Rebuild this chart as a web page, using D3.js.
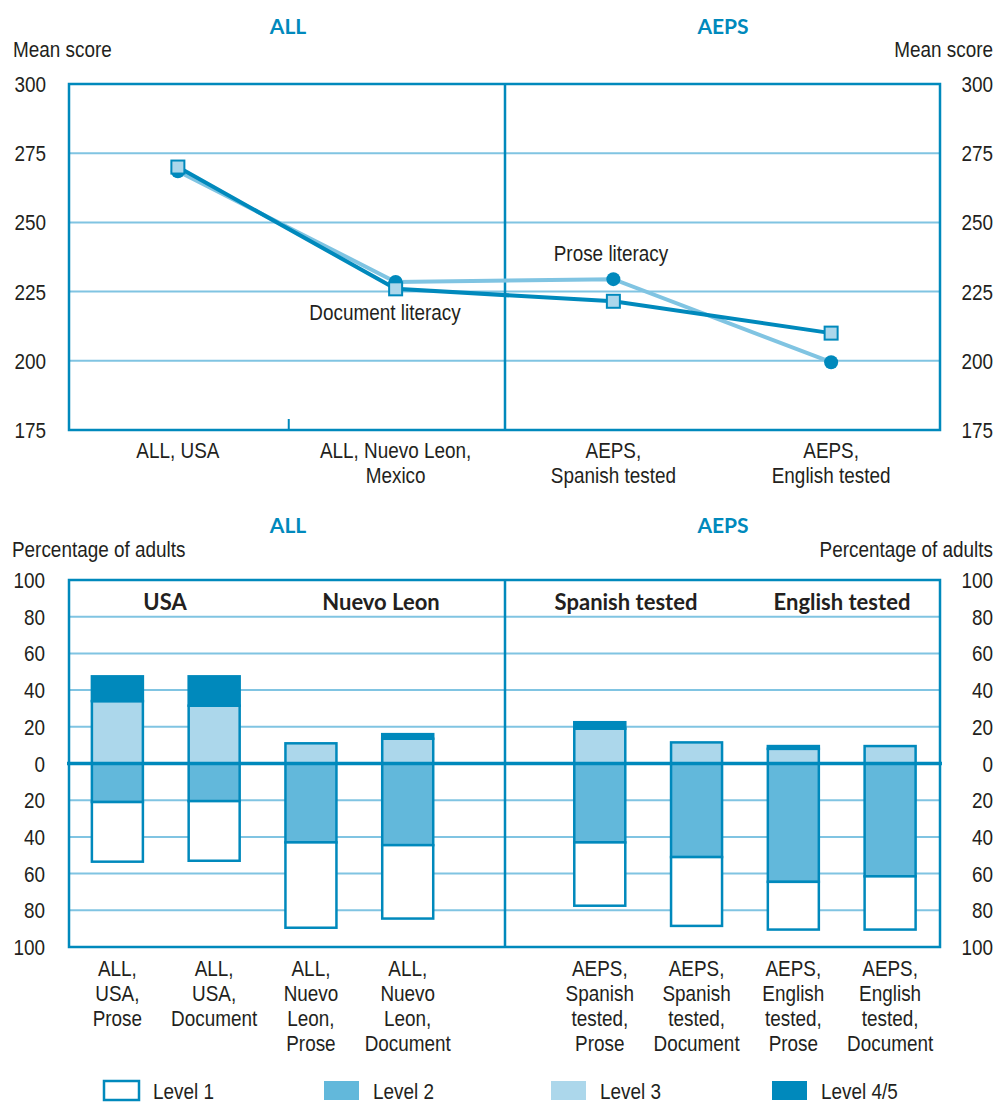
<!DOCTYPE html>
<html>
<head>
<meta charset="utf-8">
<script src="https://cdn.jsdelivr.net/npm/d3@7/dist/d3.min.js"></script>
<style>
  html, body { margin: 0; padding: 0; background: #fff; }
  svg { display: block; }
  .lbl { font-family: "Liberation Sans", Arial, sans-serif; fill: #231f20; }
  .ttl { font-family: Lato, "Open Sans", sans-serif; font-weight: 700; }
</style>
</head>
<body>
<svg id="chart" width="995" height="1102"></svg>
<script>
// ---------- DATA ----------
const lineCategories = ["ALL, USA", "ALL, Nuevo Leon, Mexico", "AEPS, Spanish tested", "AEPS, English tested"];
const lineCategoryLines = [["ALL, USA"], ["ALL, Nuevo Leon,", "Mexico"], ["AEPS,", "Spanish tested"], ["AEPS,", "English tested"]];
const proseScores = [268.5, 228.5, 229.5, 199.5];
const documentScores = [270, 226, 221.5, 210];
const scoreTicks = [175, 200, 225, 250, 275, 300];

const barCategories = ["ALL, USA, Prose", "ALL, USA, Document", "ALL, Nuevo Leon, Prose", "ALL, Nuevo Leon, Document",
  "AEPS, Spanish tested, Prose", "AEPS, Spanish tested, Document", "AEPS, English tested, Prose", "AEPS, English tested, Document"];
const barCategoryLines = [["ALL,", "USA,", "Prose"], ["ALL,", "USA,", "Document"], ["ALL,", "Nuevo", "Leon,", "Prose"], ["ALL,", "Nuevo", "Leon,", "Document"],
  ["AEPS,", "Spanish", "tested,", "Prose"], ["AEPS,", "Spanish", "tested,", "Document"], ["AEPS,", "English", "tested,", "Prose"], ["AEPS,", "English", "tested,", "Document"]];
const level1 = [32.5, 32.5, 46.5, 40, 34.5, 37.5, 26, 29];
const level2 = [21, 20.5, 43, 44.5, 43, 51, 64.5, 61.5];
const level3 = [34, 31.5, 11, 13.5, 19, 11.5, 8, 9.5];
const level45 = [13.5, 16, 0, 2.5, 3.5, 0, 1.5, 0];
const pctTicks = [-100, -80, -60, -40, -20, 0, 20, 40, 60, 80, 100];
const groupTitles = ["ALL", "AEPS"];
const subGroupTitles = ["USA", "Nuevo Leon", "Spanish tested", "English tested"];
const legendLabels = ["Level 1", "Level 2", "Level 3", "Level 4/5"];

// ---------- STYLE ----------
const DARK = "#0089bc", GRID = "#80c4e2", L2C = "#62b8db", L3C = "#acd7eb", TXT = "#231f20";
const svg = d3.select("#chart");
const X0 = 69, X1 = 940, XMID = 505;

// condensed label: Liberation Sans squeezed horizontally
function label(sel, x, y, text, anchor, size) {
  return sel.append("text").attr("class", "lbl")
    .attr("transform", `translate(${x},${y}) scale(0.86,1)`)
    .attr("text-anchor", anchor || "middle").attr("dominant-baseline", "central")
    .style("font-size", (size || 22) + "px").text(text);
}
function title(sel, x, y, text, color, size) {
  return sel.append("text").attr("class", "ttl").attr("x", x).attr("y", y).attr("text-anchor", "middle")
    .attr("dominant-baseline", "central").style("font-size", size + "px").attr("fill", color).text(text);
}

// ---------- TOP LINE CHART ----------
const yT = d3.scaleLinear().domain([175, 300]).range([430, 84]);
const xT = d3.scaleBand().domain(lineCategories).range([X0, X1]);
const xTc = c => xT(c) + xT.bandwidth() / 2;
const gTop = svg.append("g");

title(gTop, 288, 25, groupTitles[0], DARK, 21);
title(gTop, 723, 25, groupTitles[1], DARK, 21);
label(gTop, 13, 49, "Mean score", "start");
label(gTop, 993, 49, "Mean score", "end");

gTop.selectAll(".g").data(scoreTicks.filter(t => t > 175 && t < 300)).join("line")
  .attr("x1", X0).attr("x2", X1).attr("y1", d => yT(d)).attr("y2", d => yT(d))
  .attr("stroke", GRID).attr("stroke-width", 2);
scoreTicks.forEach(t => {
  label(gTop, 46, yT(t), String(t), "end");
  label(gTop, 993, yT(t), String(t), "end");
});
gTop.append("rect").attr("x", X0).attr("y", yT(300)).attr("width", X1 - X0).attr("height", yT(175) - yT(300))
  .attr("fill", "none").attr("stroke", DARK).attr("stroke-width", 2.5);
gTop.append("line").attr("x1", XMID).attr("x2", XMID).attr("y1", yT(300)).attr("y2", yT(175))
  .attr("stroke", DARK).attr("stroke-width", 2.5);
gTop.append("line").attr("x1", xT(lineCategories[1]) + 2).attr("x2", xT(lineCategories[1]) + 2)
  .attr("y1", yT(175)).attr("y2", yT(175) - 11).attr("stroke", DARK).attr("stroke-width", 2);

lineCategories.forEach((c, i) => {
  lineCategoryLines[i].forEach((ln, j) => label(gTop, xTc(c), 450 + j * 25, ln));
});

const lineGen = d3.line().x((d, i) => xTc(lineCategories[i])).y(d => yT(d));
gTop.append("path").datum(proseScores).attr("d", lineGen).attr("fill", "none")
  .attr("stroke", GRID).attr("stroke-width", 4);
gTop.append("path").datum(documentScores).attr("d", lineGen).attr("fill", "none")
  .attr("stroke", DARK).attr("stroke-width", 4);
gTop.selectAll(".pc").data(proseScores).join("circle")
  .attr("cx", (d, i) => xTc(lineCategories[i])).attr("cy", d => yT(d)).attr("r", 7).attr("fill", DARK);
gTop.selectAll(".ds").data(documentScores).join("rect")
  .attr("x", (d, i) => xTc(lineCategories[i]) - 6.5).attr("y", d => yT(d) - 6.5)
  .attr("width", 13).attr("height", 13).attr("fill", L3C).attr("stroke", DARK).attr("stroke-width", 2);

label(gTop, 611, 253, "Prose literacy");
label(gTop, 385, 312, "Document literacy");

// ---------- BOTTOM BAR CHART ----------
const yB = d3.scaleLinear().domain([-100, 100]).range([947, 580]);
const slots = d3.range(9);
const xB = d3.scaleBand().domain(slots).range([X0, X1]);
const slotOf = i => (i < 4 ? i : i + 1);
const bw = 51;
const bx = i => xB(slotOf(i)) + xB.bandwidth() / 2 - (i < 4 ? 0 : 1.5);
const gBot = svg.append("g");

title(gBot, 288, 524, groupTitles[0], DARK, 21);
title(gBot, 723, 524, groupTitles[1], DARK, 21);
label(gBot, 12, 549, "Percentage of adults", "start");
label(gBot, 993, 549, "Percentage of adults", "end");

gBot.selectAll(".g").data(pctTicks.filter(t => t !== 0 && Math.abs(t) !== 100)).join("line")
  .attr("x1", X0).attr("x2", X1).attr("y1", d => yB(d)).attr("y2", d => yB(d))
  .attr("stroke", GRID).attr("stroke-width", 2);
pctTicks.forEach(t => {
  label(gBot, 45, yB(t), String(Math.abs(t)), "end");
  label(gBot, 993, yB(t), String(Math.abs(t)), "end");
});

const subX = [165, 381, 626, 842];
subGroupTitles.forEach((t, i) => title(gBot, subX[i], 601, t, TXT, 22));

function seg(i, from, to, fill) {
  if (to === from) return;
  const ya = yB(Math.max(from, to)), yb = yB(Math.min(from, to));
  gBot.append("rect").attr("x", bx(i) - bw / 2).attr("y", ya).attr("width", bw).attr("height", yb - ya)
    .attr("fill", fill).attr("stroke", DARK).attr("stroke-width", 2.5);
}
barCategories.forEach((c, i) => {
  seg(i, 0, level3[i], L3C);
  seg(i, level3[i], level3[i] + level45[i], DARK);
  seg(i, 0, -level2[i], L2C);
  seg(i, -level2[i], -level2[i] - level1[i], "#fff");
});

gBot.append("rect").attr("x", X0).attr("y", yB(100)).attr("width", X1 - X0).attr("height", yB(-100) - yB(100))
  .attr("fill", "none").attr("stroke", DARK).attr("stroke-width", 2.5);
gBot.append("line").attr("x1", XMID).attr("x2", XMID).attr("y1", yB(100)).attr("y2", yB(-100))
  .attr("stroke", DARK).attr("stroke-width", 2.5);
gBot.append("line").attr("x1", X0 - 2).attr("x2", X1 + 2).attr("y1", yB(0)).attr("y2", yB(0))
  .attr("stroke", DARK).attr("stroke-width", 3.5);

barCategories.forEach((c, i) => {
  barCategoryLines[i].forEach((ln, j) => label(gBot, bx(i), 968 + j * 25, ln));
});

const legFills = ["#fff", L2C, L3C, DARK];
const legX = [103, 323, 550, 771];
legendLabels.forEach((t, i) => {
  gBot.append("rect").attr("x", legX[i] + 1).attr("y", 1081).attr("width", 35).attr("height", 19)
    .attr("fill", legFills[i]).attr("stroke", i === 0 ? DARK : "none").attr("stroke-width", 2.5);
  label(gBot, legX[i] + 50, 1091, t, "start");
});
</script>
</body>
</html>
